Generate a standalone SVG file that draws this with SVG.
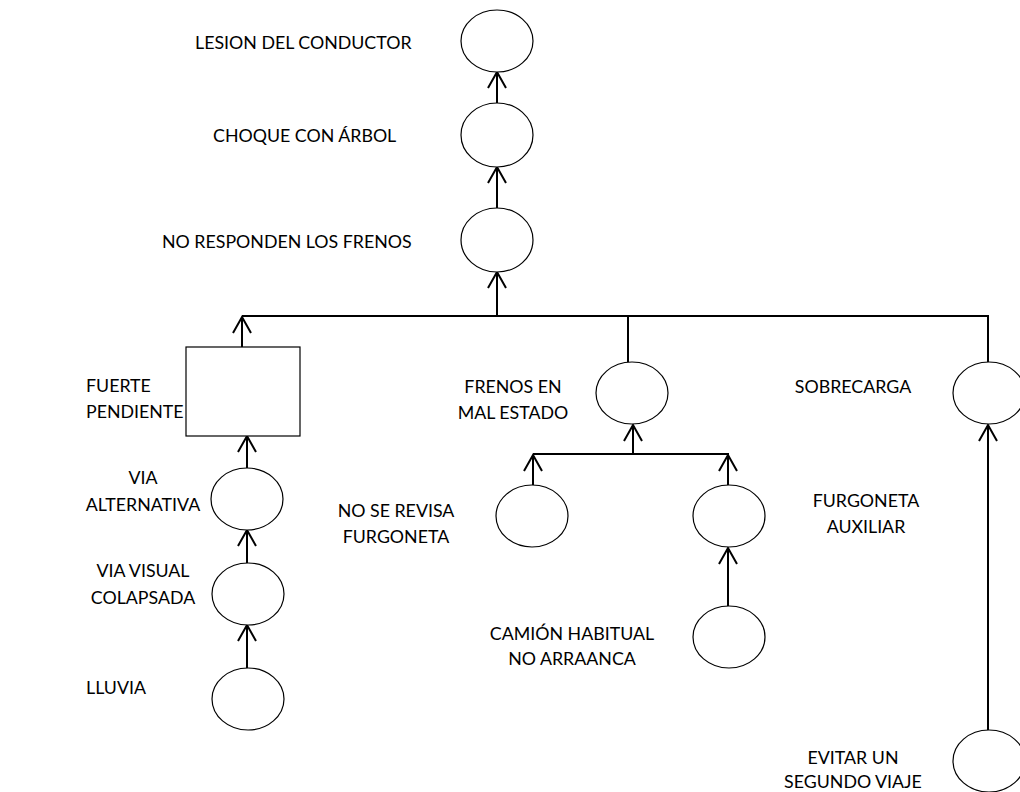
<svg xmlns="http://www.w3.org/2000/svg" width="1020" height="792" viewBox="0 0 1020 792">
<style>
.n{fill:#fff;stroke:#000;stroke-width:1.2}
.c{stroke:#000;stroke-width:2;fill:none}
.a{marker-end:url(#ah)}
text{font-family:Lato,"Liberation Sans",sans-serif;font-size:17.8px;fill:#000}
.m{text-anchor:middle}
</style>
<defs>
<marker id="ah" markerUnits="userSpaceOnUse" markerWidth="24" markerHeight="24" viewBox="-18 -12 20 24" refX="0" refY="0" orient="auto">
<path d="M-16,-9 L0,0 L-16,9" fill="none" stroke="#000" stroke-width="2"/>
</marker>
</defs>
<rect width="1020" height="792" fill="#fff"/>
<g id="connectors">
<line class="c a" x1="497" y1="103" x2="497" y2="72"/>
<line class="c a" x1="497" y1="208" x2="497" y2="167"/>
<line class="c a" x1="497" y1="316" x2="497" y2="272"/>
<line class="c" x1="242" y1="316" x2="989" y2="316"/>
<line class="c" x1="988" y1="316" x2="988" y2="362"/>
<line class="c" x1="628" y1="316" x2="628" y2="362"/>
<line class="c a" x1="242" y1="347" x2="242" y2="317"/>
<line class="c a" x1="247" y1="468" x2="247" y2="436"/>
<line class="c a" x1="247" y1="563" x2="247" y2="530"/>
<line class="c a" x1="247" y1="668" x2="247" y2="625"/>
<line class="c a" x1="633" y1="454" x2="633" y2="425"/>
<line class="c" x1="533" y1="454" x2="729" y2="454"/>
<line class="c a" x1="533" y1="485" x2="533" y2="455"/>
<line class="c a" x1="728" y1="485" x2="728" y2="455"/>
<line class="c a" x1="728" y1="606" x2="728" y2="548"/>
<line class="c a" x1="988" y1="730" x2="988" y2="425"/>
</g>
<g id="lesion"><ellipse class="n" cx="497" cy="41" rx="36" ry="31"/><text x="195" y="49">LESION DEL CONDUCTOR</text></g>
<g id="choque"><ellipse class="n" cx="497" cy="135" rx="36" ry="32"/><text x="213" y="142">CHOQUE CON ÁRBOL</text></g>
<g id="frenos-no"><ellipse class="n" cx="497" cy="240" rx="36" ry="32"/><text x="162" y="248">NO RESPONDEN LOS FRENOS</text></g>
<g id="pendiente"><rect class="n" x="186" y="347" width="114" height="89"/><text x="86" y="392">FUERTE</text><text x="86" y="418">PENDIENTE</text></g>
<g id="via-alt"><ellipse class="n" cx="247" cy="499" rx="36" ry="31"/><text class="m" x="143" y="484">VIA</text><text class="m" x="143" y="511">ALTERNATIVA</text></g>
<g id="via-visual"><ellipse class="n" cx="248" cy="594" rx="36" ry="31"/><text class="m" x="143" y="577">VIA VISUAL</text><text class="m" x="143" y="604">COLAPSADA</text></g>
<g id="lluvia"><ellipse class="n" cx="248" cy="699" rx="36" ry="31"/><text x="86" y="694">LLUVIA</text></g>
<g id="frenos-mal"><ellipse class="n" cx="632" cy="393" rx="36" ry="31"/><text class="m" x="513" y="393">FRENOS EN</text><text class="m" x="513" y="419">MAL ESTADO</text></g>
<g id="no-revisa"><ellipse class="n" cx="532" cy="516" rx="36" ry="31"/><text class="m" x="396" y="517">NO SE REVISA</text><text class="m" x="396" y="543">FURGONETA</text></g>
<g id="furgoneta-aux"><ellipse class="n" cx="729" cy="516" rx="36" ry="31"/><text class="m" x="866" y="507">FURGONETA</text><text class="m" x="866" y="533">AUXILIAR</text></g>
<g id="camion"><ellipse class="n" cx="729" cy="637" rx="36" ry="31"/><text class="m" x="572" y="640">CAMIÓN HABITUAL</text><text class="m" x="572" y="665">NO ARRAANCA</text></g>
<g id="sobrecarga"><ellipse class="n" cx="989" cy="393" rx="36" ry="31"/><text class="m" x="853" y="393">SOBRECARGA</text></g>
<g id="evitar"><ellipse class="n" cx="989" cy="761" rx="36" ry="31"/><text class="m" x="853" y="764">EVITAR UN</text><text class="m" x="853" y="788">SEGUNDO VIAJE</text></g>
</svg>
